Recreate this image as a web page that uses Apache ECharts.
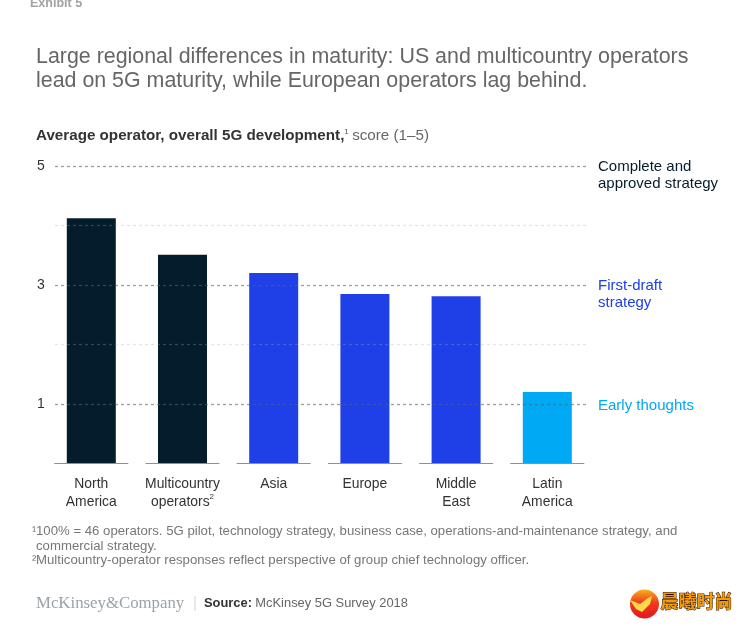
<!DOCTYPE html>
<html><head><meta charset="utf-8">
<style>html,body{margin:0;padding:0;background:#fff}#c{width:739px;height:626px}</style>
<script src="https://cdn.jsdelivr.net/npm/echarts@6/dist/echarts.min.js"></script>
</head><body><div id="c"></div>
<script>
const categories = ['North\nAmerica','Multicountry\noperators²','Asia','Europe','Middle\nEast','Latin\nAmerica'];
const scores = [4.12,3.51,3.2,2.85,2.81,1.2];
const barColors = ['#051c2c','#051c2c','#1f40e6','#1f40e6','#1f40e6','#00a9f4'];
const yTicks = [1,3,5];
const strongLines = [1,3,5];
const faintLines = [2,4];
const F = '"Liberation Sans", Arial, sans-serif';

const chart = echarts.init(document.getElementById('c'), null, {renderer:'canvas'});
const txt = (left, top, text, size, fill, extra) => ({type:'text', left, top, silent:true, z:20,
  style:Object.assign({text, font:`${size}px ${F}`, fill}, extra||{})});
const hline = (v, color) => [{x:55, yAxis:v, lineStyle:{color, type:[3,3], width:1.3}}, {x:587, yAxis:v}];

chart.setOption({
  animation:false,
  backgroundColor:'#fff',
  grid:{left:45.7, width:547.2, top:166, height:297.5},
  xAxis:{type:'category', data:categories, axisLine:{show:false}, axisTick:{show:false},
    axisLabel:{color:'#333', fontFamily:F, fontSize:13.9, lineHeight:17.5, margin:12, interval:0,
      formatter:v=>v.replace('²','{s|2}'),
      rich:{s:{fontSize:8,color:'#333',fontFamily:F,verticalAlign:'top',padding:[0,0,4,0]}}}},
  yAxis:{type:'value', min:0, max:5, interval:1, splitLine:{show:false}, axisLine:{show:false}, axisTick:{show:false},
    axisLabel:{color:'#333', fontFamily:F, fontSize:14, margin:1, formatter:v=>yTicks.includes(v)?String(v):''}},
  series:[
    {type:'bar', data:scores.map((v,i)=>({value:v,itemStyle:{color:barColors[i]}})), barWidth:49, z:2,
     markLine:{silent:true, symbol:'none', label:{show:false}, z:5, animation:false,
       data:[...faintLines.map(v=>hline(v,'rgba(170,170,170,0.3)')), ...strongLines.map(v=>hline(v,'rgba(95,95,95,0.6)'))]}},
    {type:'custom', z:3, silent:true, data:categories.map((c,i)=>[i,0]),
     renderItem:(p,api)=>{const q=api.coord([api.value(0),0]);
       return {type:'line', shape:{x1:q[0]-37,y1:q[1],x2:q[0]+37,y2:q[1]}, style:{stroke:'#8a9299',lineWidth:1}};}}
  ],
  graphic:[
    txt(30,-3,'Exhibit 5',12.5,'#a3a3a3',{font:`bold 12.5px ${F}`}),
    txt(36,47,'Large regional differences in maturity: US and multicountry operators',21.4,'#666'),
    txt(36,71,'lead on 5G maturity, while European operators lag behind.',21.4,'#666'),
    {type:'text', left:36, top:128, silent:true, z:20, style:{
      text:'{b|Average operator, overall 5G development,}{s|1} {r|score (1–5)}',
      rich:{b:{font:`bold 15.2px ${F}`,fill:'#333',verticalAlign:'bottom'},
            s:{font:`8px ${F}`,fill:'#555',verticalAlign:'top',padding:[0,0,6,0]},
            r:{font:`15.2px ${F}`,fill:'#666'}}}},
    txt(598,159.5,'Complete and',15,'#051c2c'),
    txt(598,176.5,'approved strategy',15,'#051c2c'),
    txt(598,278.5,'First-draft',15,'#1f40e6'),
    txt(598,295.5,'strategy',15,'#1f40e6'),
    txt(598,398.5,'Early thoughts',15,'#00a9f4'),
    txt(32,525,'¹',13,'#777'),
    txt(36,525,'100% = 46 operators. 5G pilot, technology strategy, business case, operations-and-maintenance strategy, and',13.2,'#777'),
    txt(36,540,'commercial strategy.',13.2,'#777'),
    txt(32,554,'²',13,'#777'),
    txt(36,554,'Multicountry-operator responses reflect perspective of group chief technology officer.',13.2,'#777'),
    {type:'text', left:36, top:595, silent:true, z:20, style:{text:'McKinsey&Company', font:'16.8px "Liberation Serif", serif', fill:'#9aa3a8'}},
    {type:'rect', silent:true, z:20, shape:{x:194.5,y:596,width:1,height:15}, style:{fill:'#d5d5d5'}},
    {type:'text', left:204, top:597, silent:true, z:20, style:{
      text:'{b|Source:} {r|McKinsey 5G Survey 2018}',
      rich:{b:{font:`bold 12.9px ${F}`,fill:'#333'}, r:{font:`12.9px ${F}`,fill:'#666'}}}},
    {type:'circle', silent:true, z:20, shape:{cx:644.5,cy:604,r:14.5},
     style:{fill:new echarts.graphic.LinearGradient(0,0,0,1,[{offset:0,color:'#f7b01e'},{offset:0.45,color:'#ee3d1c'},{offset:1,color:'#e3161c'}])}},
    {type:'polygon', silent:true, z:21, shape:{points:[[630,600],[640,604],[648,598],[652,596],[650,604],[642,612],[636,609]]}, style:{fill:'#ffd84a'}},
    {type:'text', silent:true, z:21, left:660, top:592, style:{text:'晨曦时尚', font:'bold 18px "Noto Sans CJK SC"', fill:'#f59a0c', stroke:'#2a1000', lineWidth:1}}
  ]
});
</script></body></html>
